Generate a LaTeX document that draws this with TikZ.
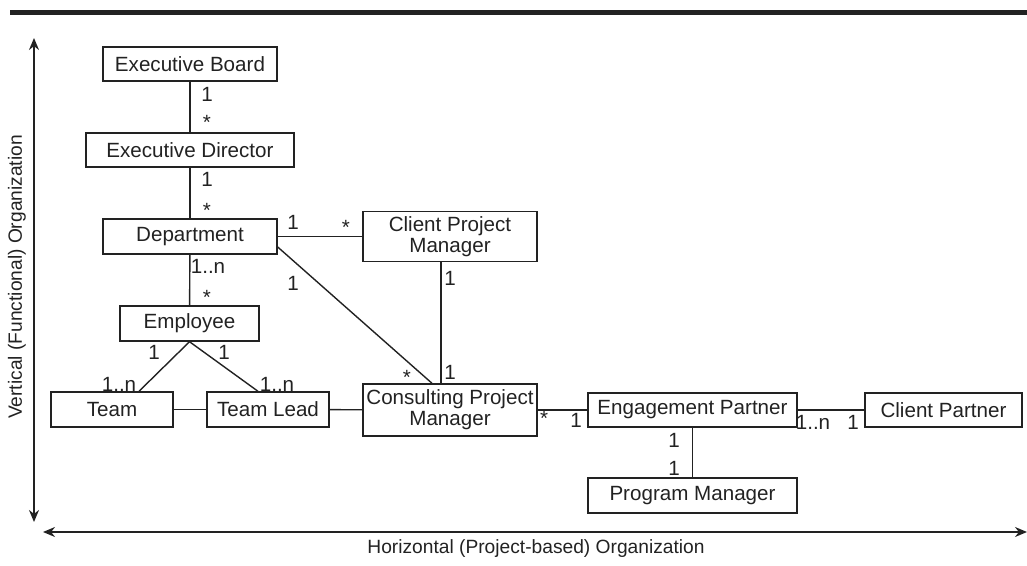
\documentclass[tikz,border=0pt]{standalone}
\usepackage{fontspec}
\setmainfont{Liberation Sans}
\usetikzlibrary{arrows.meta}
\definecolor{ink}{HTML}{222222}
\begin{document}
\begin{tikzpicture}[x=0.5pt,y=-0.5pt,
  box/.style={draw=ink,text=ink,line width=0.7pt,inner sep=0pt,align=center,
    font=\fontsize{10.3}{10.5}\selectfont},
  lbl/.style={text=ink,inner sep=0pt,font=\fontsize{10.3}{10.5}\selectfont},
  axislbl/.style={text=ink,inner sep=0pt,font=\fontsize{9.6}{11}\selectfont},
  link/.style={draw=ink,line width=0.7pt},
  axis/.style={draw=ink,line width=0.7pt,{Stealth[length=6pt,width=5pt]}-{Stealth[length=6pt,width=5pt]}}]
\useasboundingbox (0,0) rectangle (1027,566);

% heading rule
\fill[ink] (10,10) rectangle (1027,15);

% axes
\coordinate (vtop) at (34,38);
\coordinate (vbot) at (34,522);
\coordinate (hleft) at (43,532);
\coordinate (hright) at (1027,532);
\draw[axis] (vtop) -- (vbot);
\draw[axis] (hleft) -- (hright);
\node[axislbl,rotate=90] (vlab) at (17,277) {Vertical (Functional) Organization};
\node[axislbl] (hlab) at (536,549) {Horizontal (Project-based) Organization};

% boxes
\node[box,minimum width=87pt,minimum height=17pt] (eb) at (190,64) {Executive Board};
\node[box,minimum width=104pt,minimum height=17pt] (ed) at (190,150) {Executive Director};
\node[box,minimum width=87pt,minimum height=17.5pt] (dept) at (190,236.5) {Department};
\node[box,minimum width=69.5pt,minimum height=17.5pt] (emp) at (189.5,323.5) {Employee};
\node[box,minimum width=61pt,minimum height=17.5pt] (team) at (112,409.5) {Team};
\node[box,minimum width=61pt,minimum height=17.5pt] (tl) at (268,409.5) {Team Lead};
\node[box,minimum width=87pt,minimum height=25pt] (clpm) at (450,236.5) {Client Project\\Manager};
\node[box,minimum width=87pt,minimum height=26pt] (cpm) at (450,410) {Consulting Project\\Manager};
\node[box,minimum width=104.5pt,minimum height=17pt] (ep) at (692.5,410) {Engagement Partner};
\node[box,minimum width=78.5pt,minimum height=17pt] (clp) at (943.5,410) {Client Partner};
\node[box,minimum width=104.5pt,minimum height=17.5pt] (pm) at (692.5,495.5) {Program Manager};

% connectors
\draw[link] (eb) -- (ed);
\draw[link] (ed) -- (dept);
\draw[link] (dept) -- (emp);
\draw[link] (dept.east) -- (clpm.west);
\draw[link] ([yshift=-5.25pt]dept.east) -- ([xshift=-9pt]cpm.north);
\draw[link] ([xshift=-4.5pt]clpm.south) -- ([xshift=-4.5pt]cpm.north);
\draw[link] (emp.south) -- ([xshift=13.5pt]team.north);
\draw[link] (emp.south) -- ([xshift=-5pt]tl.north);
\draw[link] (team) -- (tl);
\draw[link] (tl) -- (cpm);
\draw[link] (cpm) -- (ep);
\draw[link] (ep) -- (clp);
\draw[link] (ep) -- (pm);

% multiplicities
\node[lbl] (m1) at (207,94) {1};
\node[lbl] (m2) at (207,122) {*};
\node[lbl] (m3) at (207,179) {1};
\node[lbl] (m4) at (207,210) {*};
\node[lbl] (m5) at (293,222) {1};
\node[lbl] (m6) at (346,227) {*};
\node[lbl] (m7) at (208,266) {1..n};
\node[lbl] (m8) at (207,297) {*};
\node[lbl] (m9) at (293,283) {1};
\node[lbl] (m10) at (450,278) {1};
\node[lbl] (m11) at (450,372) {1};
\node[lbl] (m12) at (407,377) {*};
\node[lbl] (m13) at (154,352) {1};
\node[lbl] (m14) at (224,352) {1};
\node[lbl] (m15) at (119,384) {1..n};
\node[lbl] (m16) at (277,384) {1..n};
\node[lbl] (m17) at (544,418) {*};
\node[lbl] (m18) at (576,420) {1};
\node[lbl] (m19) at (813,422) {1..n};
\node[lbl] (m20) at (853,422) {1};
\node[lbl] (m21) at (674,440) {1};
\node[lbl] (m22) at (674,468) {1};
\end{tikzpicture}
\end{document}
